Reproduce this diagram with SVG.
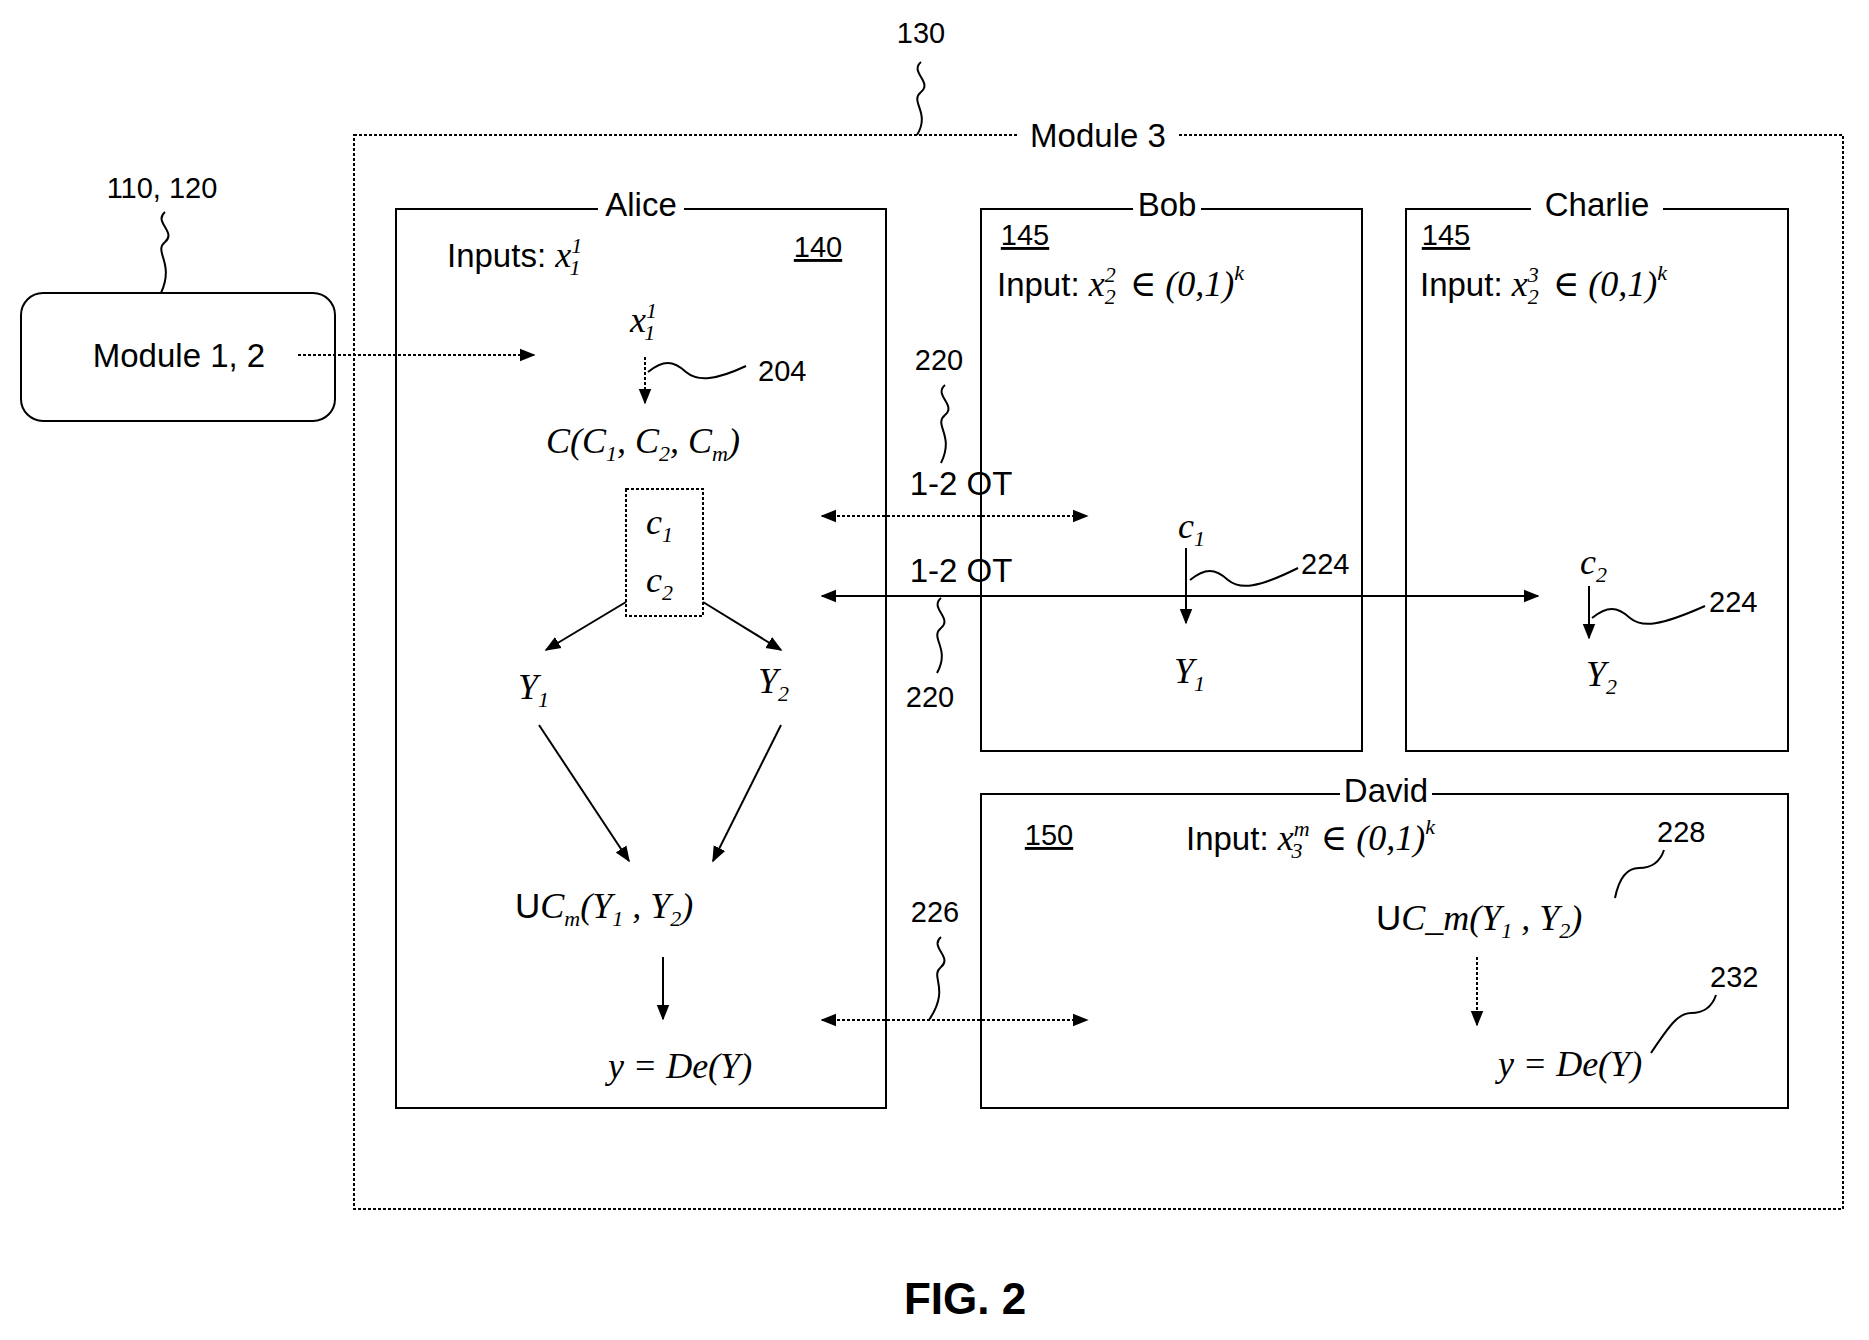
<svg xmlns="http://www.w3.org/2000/svg" width="1869" height="1340" viewBox="0 0 1869 1340">
<defs>
<marker id="ah" viewBox="0 0 10 10" refX="9" refY="5" markerWidth="8" markerHeight="8" orient="auto-start-reverse"><path d="M0,1 L10,5 L0,9 z" fill="#000"/></marker>
<style>
.box{fill:none;stroke:#000;stroke-width:2}
.t{font-family:"Liberation Sans",Arial,sans-serif;font-size:33px;fill:#000}
.n{font-size:29px}
.m{font-family:"Liberation Serif","DejaVu Serif",serif;font-style:italic;font-size:36px;fill:#000}
.s{font-size:22px}
.ln{stroke:#000;stroke-width:2;fill:none}
.sq{stroke:#000;stroke-width:2;fill:none}
.lbl{fill:#fff}
</style>
</defs>
<rect width="1869" height="1340" fill="#fff"/>
<g id="module3">
<rect class="box" x="354" y="135" width="1489" height="1074" stroke-dasharray="3,2"/>
<rect class="lbl" x="1018" y="118" width="160" height="34"/>
<text class="t" x="1098" y="147" text-anchor="middle">Module 3</text>
<text class="t n" x="921" y="43" text-anchor="middle">130</text>
<path class="sq" d="M921,62 c-12,10 12,20 0,30 c-12,10 10,20 -4,43"/>
</g>
<g id="module12">
<rect class="box" x="21" y="293" width="314" height="128" rx="22"/>
<text class="t" x="179" y="367" text-anchor="middle">Module 1, 2</text>
<text class="t n" x="162" y="198" text-anchor="middle">110, 120</text>
<path class="sq" d="M165,212 c-12,10 12,20 0,30 c-12,10 10,20 -4,51"/>
</g>
<g id="alice">
<rect class="box" x="396" y="209" width="490" height="899"/>
<rect class="lbl" x="598" y="190" width="86" height="32"/>
<text class="t" x="641" y="216" text-anchor="middle">Alice</text>
<text class="t" x="447" y="267">Inputs: <tspan class="m">x</tspan><tspan class="m s" dy="-14">1</tspan><tspan class="m s" dx="-11" dy="22">1</tspan></text>
<text class="t n" x="818" y="257" text-anchor="middle" text-decoration="underline">140</text>
<text class="m" x="630" y="332">x<tspan class="s" dy="-14">1</tspan><tspan class="s" dx="-11" dy="22">1</tspan></text>
<text class="t n" x="758" y="381">204</text>
<path class="sq" d="M648,372 c15,-12 25,-12 38,0 c12,10 30,8 60,-6"/>
<text class="m" x="643" y="453" text-anchor="middle">C(C<tspan class="s" dy="8">1</tspan><tspan dy="-8">, C</tspan><tspan class="s" dy="8">2</tspan><tspan dy="-8">, C</tspan><tspan class="s" dy="8">m</tspan><tspan dy="-8">)</tspan></text>
<rect class="box" x="626" y="489" width="77" height="127" stroke-dasharray="3,2"/>
<text class="m" x="646" y="534">c<tspan class="s" dy="8">1</tspan></text>
<text class="m" x="646" y="592">c<tspan class="s" dy="8">2</tspan></text>
<text class="m" x="518" y="699">Y<tspan class="s" dy="8">1</tspan></text>
<text class="m" x="758" y="693">Y<tspan class="s" dy="8">2</tspan></text>
<text class="t" x="515" y="918" style="font-size:35px">U<tspan class="m">C<tspan class="s" dy="8">m</tspan><tspan dy="-8">(Y</tspan><tspan class="s" dy="8">1</tspan><tspan dy="-8"> , Y</tspan><tspan class="s" dy="8">2</tspan><tspan dy="-8">)</tspan></tspan></text>
<text class="m" x="680" y="1078" text-anchor="middle">y = De(Y)</text>
</g>
<g id="bob">
<rect class="box" x="981" y="209" width="381" height="542"/>
<rect class="lbl" x="1133" y="190" width="68" height="32"/>
<text class="t" x="1167" y="216" text-anchor="middle">Bob</text>
<text class="t n" x="1025" y="245" text-anchor="middle" text-decoration="underline">145</text>
<text class="t" x="997" y="296">Input: <tspan class="m">x</tspan><tspan class="m s" dy="-14">2</tspan><tspan class="m s" dx="-11" dy="22">2</tspan><tspan class="m" dx="14" dy="-8">∈ (0,1)</tspan><tspan class="m s" dy="-16">k</tspan></text>
<text class="m" x="1178" y="538">c<tspan class="s" dy="8">1</tspan></text>
<text class="t n" x="1301" y="574">224</text>
<path class="sq" d="M1190,580 c15,-12 25,-12 38,0 c12,10 30,8 70,-12"/>
<text class="m" x="1174" y="683">Y<tspan class="s" dy="8">1</tspan></text>
</g>
<g id="charlie">
<rect class="box" x="1406" y="209" width="382" height="542"/>
<rect class="lbl" x="1531" y="190" width="132" height="32"/>
<text class="t" x="1597" y="216" text-anchor="middle">Charlie</text>
<text class="t n" x="1446" y="245" text-anchor="middle" text-decoration="underline">145</text>
<text class="t" x="1420" y="296">Input: <tspan class="m">x</tspan><tspan class="m s" dy="-14">3</tspan><tspan class="m s" dx="-11" dy="22">2</tspan><tspan class="m" dx="14" dy="-8">∈ (0,1)</tspan><tspan class="m s" dy="-16">k</tspan></text>
<text class="m" x="1580" y="574">c<tspan class="s" dy="8">2</tspan></text>
<text class="t n" x="1709" y="612">224</text>
<path class="sq" d="M1592,618 c15,-12 25,-12 38,0 c12,10 30,8 75,-12"/>
<text class="m" x="1586" y="686">Y<tspan class="s" dy="8">2</tspan></text>
</g>
<g id="david">
<rect class="box" x="981" y="794" width="807" height="314"/>
<rect class="lbl" x="1340" y="776" width="92" height="32"/>
<text class="t" x="1386" y="802" text-anchor="middle">David</text>
<text class="t n" x="1049" y="845" text-anchor="middle" text-decoration="underline">150</text>
<text class="t" x="1186" y="850">Input: <tspan class="m">x</tspan><tspan class="m s" dy="-14">m</tspan><tspan class="m s" dx="-18" dy="22">3</tspan><tspan class="m" dx="18" dy="-8">∈ (0,1)</tspan><tspan class="m s" dy="-16">k</tspan></text>
<text class="t n" x="1657" y="842">228</text>
<path class="sq" d="M1664,850 c-5,15 -15,18 -25,18 c-12,0 -20,10 -24,30"/>
<text class="t" x="1376" y="930" style="font-size:35px">U<tspan class="m">C_m(Y<tspan class="s" dy="8">1</tspan><tspan dy="-8"> , Y</tspan><tspan class="s" dy="8">2</tspan><tspan dy="-8">)</tspan></tspan></text>
<text class="t n" x="1710" y="987">232</text>
<path class="sq" d="M1716,995 c-5,15 -15,18 -25,18 c-12,0 -20,10 -40,40"/>
<text class="m" x="1570" y="1076" text-anchor="middle">y = De(Y)</text>
</g>
<g id="connectors">
<line class="ln" x1="298" y1="355" x2="534" y2="355" stroke-dasharray="3,2" marker-end="url(#ah)"/>
<line class="ln" x1="645" y1="357" x2="645" y2="403" stroke-dasharray="3,2" marker-end="url(#ah)"/>
<line class="ln" x1="626" y1="602" x2="546" y2="650" marker-end="url(#ah)"/>
<line class="ln" x1="703" y1="602" x2="781" y2="650" marker-end="url(#ah)"/>
<line class="ln" x1="539" y1="725" x2="629" y2="861" marker-end="url(#ah)"/>
<line class="ln" x1="781" y1="725" x2="713" y2="861" marker-end="url(#ah)"/>
<line class="ln" x1="663" y1="957" x2="663" y2="1019" marker-end="url(#ah)"/>
<line class="ln" x1="1186" y1="548" x2="1186" y2="623" marker-end="url(#ah)"/>
<line class="ln" x1="1589" y1="586" x2="1589" y2="638" marker-end="url(#ah)"/>
<line class="ln" x1="1477" y1="957" x2="1477" y2="1025" stroke-dasharray="3,2" marker-end="url(#ah)"/>
<line class="ln" x1="822" y1="516" x2="1087" y2="516" stroke-dasharray="3,2" marker-start="url(#ah)" marker-end="url(#ah)"/>
<line class="ln" x1="822" y1="596" x2="1538" y2="596" marker-start="url(#ah)" marker-end="url(#ah)"/>
<line class="ln" x1="822" y1="1020" x2="1087" y2="1020" stroke-dasharray="3,2" marker-start="url(#ah)" marker-end="url(#ah)"/>
<text class="t" x="961" y="495" text-anchor="middle">1-2 OT</text>
<text class="t" x="961" y="582" text-anchor="middle">1-2 OT</text>
<text class="t n" x="939" y="370" text-anchor="middle">220</text>
<path class="sq" d="M945,385 c-12,10 12,20 0,30 c-12,10 10,20 -4,48"/>
<text class="t n" x="930" y="707" text-anchor="middle">220</text>
<path class="sq" d="M941,598 c-12,10 12,20 0,30 c-12,10 10,20 -4,45"/>
<text class="t n" x="935" y="922" text-anchor="middle">226</text>
<path class="sq" d="M941,937 c-12,10 12,20 0,30 c-12,10 10,20 -12,53"/>
</g>
<text class="t" x="965" y="1314" text-anchor="middle" style="font-weight:bold;font-size:44px">FIG. 2</text>
</svg>
